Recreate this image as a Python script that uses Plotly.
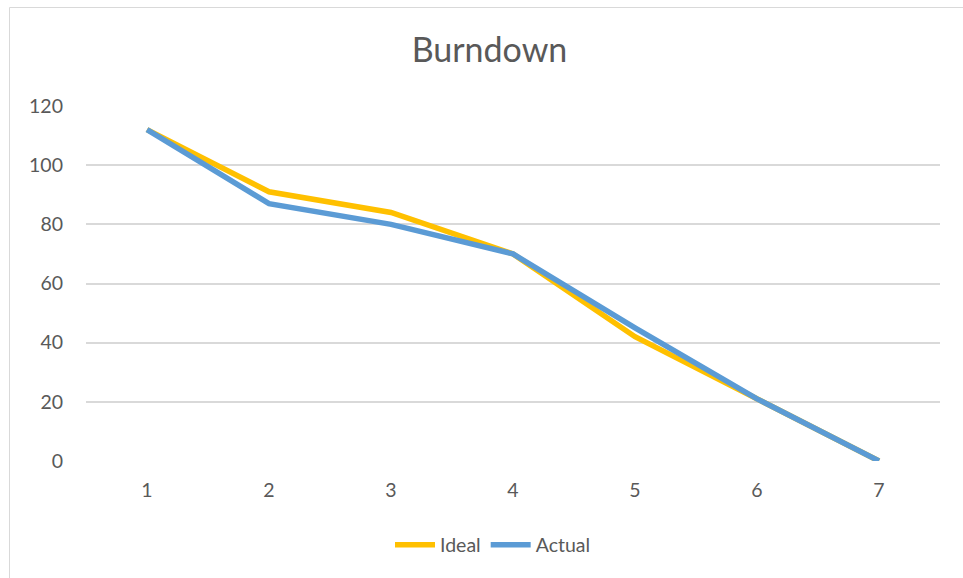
import plotly.graph_objects as go

days = [1, 2, 3, 4, 5, 6, 7]
ideal = [112, 91, 84, 70, 42, 21, 0]
actual = [112, 87, 80, 70, 45, 21, 0]
y_ticks = [0, 20, 40, 60, 80, 100, 120]

W, H = 963, 578
L, R, T, B = 86, 23, 106, 117
pw, ph = W - L - R, H - T - B

def px(x):
    return (x - L) / pw

def py(y):
    return (H - B - y) / ph

font = "Lato, 'Open Sans', sans-serif"
fs = 19.5

fig = go.Figure()
fig.add_trace(go.Scatter(x=days, y=ideal, mode="lines", name="Ideal",
                         line=dict(color="#FFC000", width=5.5)))
fig.add_trace(go.Scatter(x=days, y=actual, mode="lines", name="Actual",
                         line=dict(color="#5B9BD5", width=5.5)))

fig.update_layout(
    width=W, height=H,
    margin=dict(l=L, r=R, t=T, b=B),
    paper_bgcolor="white", plot_bgcolor="white",
    font=dict(family=font, color="#595959", size=fs),
    title=dict(text="Burndown", x=489.5 / W, xanchor="center", y=1 - 50 / H, yanchor="middle",
               font=dict(size=34, color="#595959", family=font)),
    xaxis=dict(range=[0.5, 7.5], tickmode="array", tickvals=days,
               ticktext=[str(d) for d in days], showgrid=False, zeroline=False,
               showline=False, ticks="", ticklabelstandoff=15,
               tickfont=dict(size=fs, color="#595959")),
    yaxis=dict(range=[0, 120], tickmode="array", tickvals=y_ticks,
               showgrid=True, gridcolor="#D9D9D9", gridwidth=1.8, zeroline=False,
               showline=False, ticks="", ticklabelstandoff=22,
               tickfont=dict(size=fs, color="#595959")),
    legend=dict(orientation="h", x=px(493), xanchor="center", y=py(545), yanchor="middle",
                font=dict(size=fs, color="#595959"), itemwidth=40,
                bgcolor="rgba(0,0,0,0)"),
    showlegend=True,
)

fig.add_shape(type="rect", xref="paper", yref="paper",
              x0=px(9.5), x1=px(970), y0=py(590), y1=py(7.5),
              line=dict(color="#D9D9D9", width=1), layer="below")

fig.write_html("out.html", config={"displayModeBar": False},
               post_script="document.body.style.margin='0';")
